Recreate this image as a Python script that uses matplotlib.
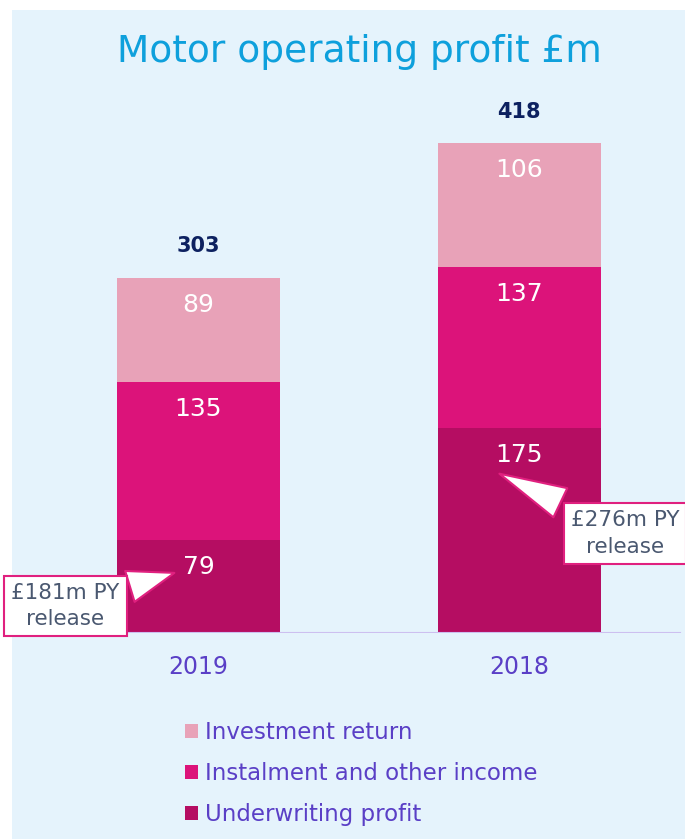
import matplotlib
matplotlib.use("Agg")
import matplotlib.pyplot as plt
from matplotlib.patches import Rectangle, Patch

YEARS = ["2019", "2018"]
SERIES = ["Investment return", "Instalment and other income", "Underwriting profit"]
UNDERWRITING = [79, 175]
INSTALMENT = [135, 137]
INVESTMENT = [89, 106]
TOTALS = [303, 418]
PY_RELEASE = ["£181m PY\nrelease", "£276m PY\nrelease"]

C_INV = "#e8a2b8"
C_INST = "#dc137a"
C_UW = "#b50d62"
BG = "#e5f3fc"
PURPLE = "#5a3fc6"
NAVY = "#0d2160"
CALLOUT = "#e0207f"

plt.rcParams["font.family"] = ["DejaVu Sans"]

W, H = 685, 839
fig = plt.figure(figsize=(W / 100, H / 100), dpi=100)
fig.patch.set_facecolor("white")
fig.patches.append(Rectangle((12 / W, 0), 1 - 12 / W, (H - 10) / H,
                             transform=fig.transFigure, fc=BG, ec="none", zorder=-10))

# axes placed in pixel terms: baseline at y=633, bar centres 198.5 / 519 px
ax = fig.add_axes([12 / W, (H - 633) / H, 1 - 12 / W, (633 - 100) / H])
ax.set_facecolor("none")
pitch = 519 - 198.5
ax.set_xlim(-(198.5 - 12) / pitch, (W - 198.5) / pitch)
ax.set_ylim(0, (633 - 100) / 1.1716)

x = [0, 1]
width = 163 / pitch
bottoms2 = UNDERWRITING
bottoms3 = [a + b for a, b in zip(UNDERWRITING, INSTALMENT)]
ax.bar(x, UNDERWRITING, width, color=C_UW, label=SERIES[2])
ax.bar(x, INSTALMENT, width, bottom=bottoms2, color=C_INST, label=SERIES[1])
ax.bar(x, INVESTMENT, width, bottom=bottoms3, color=C_INV, label=SERIES[0])

for i in x:
    tops = [UNDERWRITING[i], bottoms3[i], bottoms3[i] + INVESTMENT[i]]
    vals = [UNDERWRITING[i], INSTALMENT[i], INVESTMENT[i]]
    for t, v in zip(tops, vals):
        ax.text(i, t - 23, str(v), ha="center", va="center", color="white", fontsize=18)
    ax.text(i, TOTALS[i] + 27, str(TOTALS[i]), ha="center", va="center",
            color=NAVY, fontsize=15, fontweight="bold")

ax.axhline(0, color="#cdbff0", lw=1.5, xmax=(680 - 12) / (W - 12))

# PY release callouts
tips = [(-0.067, 52), (1 - 0.069, 137)]
boxes = [(-0.415, 23), (1 + 0.33, 85)]
for lab, tip, box in zip(PY_RELEASE, tips, boxes):
    ax.annotate(lab, xy=tip, xytext=box, ha="center", va="center",
                fontsize=15.5, color="#4a5870", linespacing=1.4,
                bbox=dict(boxstyle="square,pad=0.32", fc="white", ec=CALLOUT, lw=1.5),
                arrowprops=dict(arrowstyle="wedge,tail_width=1.5,shrink_factor=0.5",
                                fc="white", ec=CALLOUT, lw=1.5),
                annotation_clip=False, zorder=5)

ax.set_xticks(x)
ax.set_xticklabels(YEARS, color=PURPLE, fontsize=17)
ax.tick_params(axis="x", length=0, pad=16)
ax.set_yticks([])
for s in ax.spines.values():
    s.set_visible(False)

fig.text(359.5 / W, (H - 52) / H, "Motor operating profit £m", ha="center", va="center",
         color="#0ea0dc", fontsize=27)

handles = [Patch(fc=C_INV), Patch(fc=C_INST), Patch(fc=C_UW)]
fig.legend(handles, SERIES, loc="upper left", bbox_to_anchor=(174 / W, (H - 710) / H),
           frameon=False, fontsize=16.5, labelcolor=PURPLE, handlelength=0.55,
           handleheight=0.55, handletextpad=0.3, labelspacing=0.78, borderpad=0)

fig.savefig("out.png", dpi=100)
